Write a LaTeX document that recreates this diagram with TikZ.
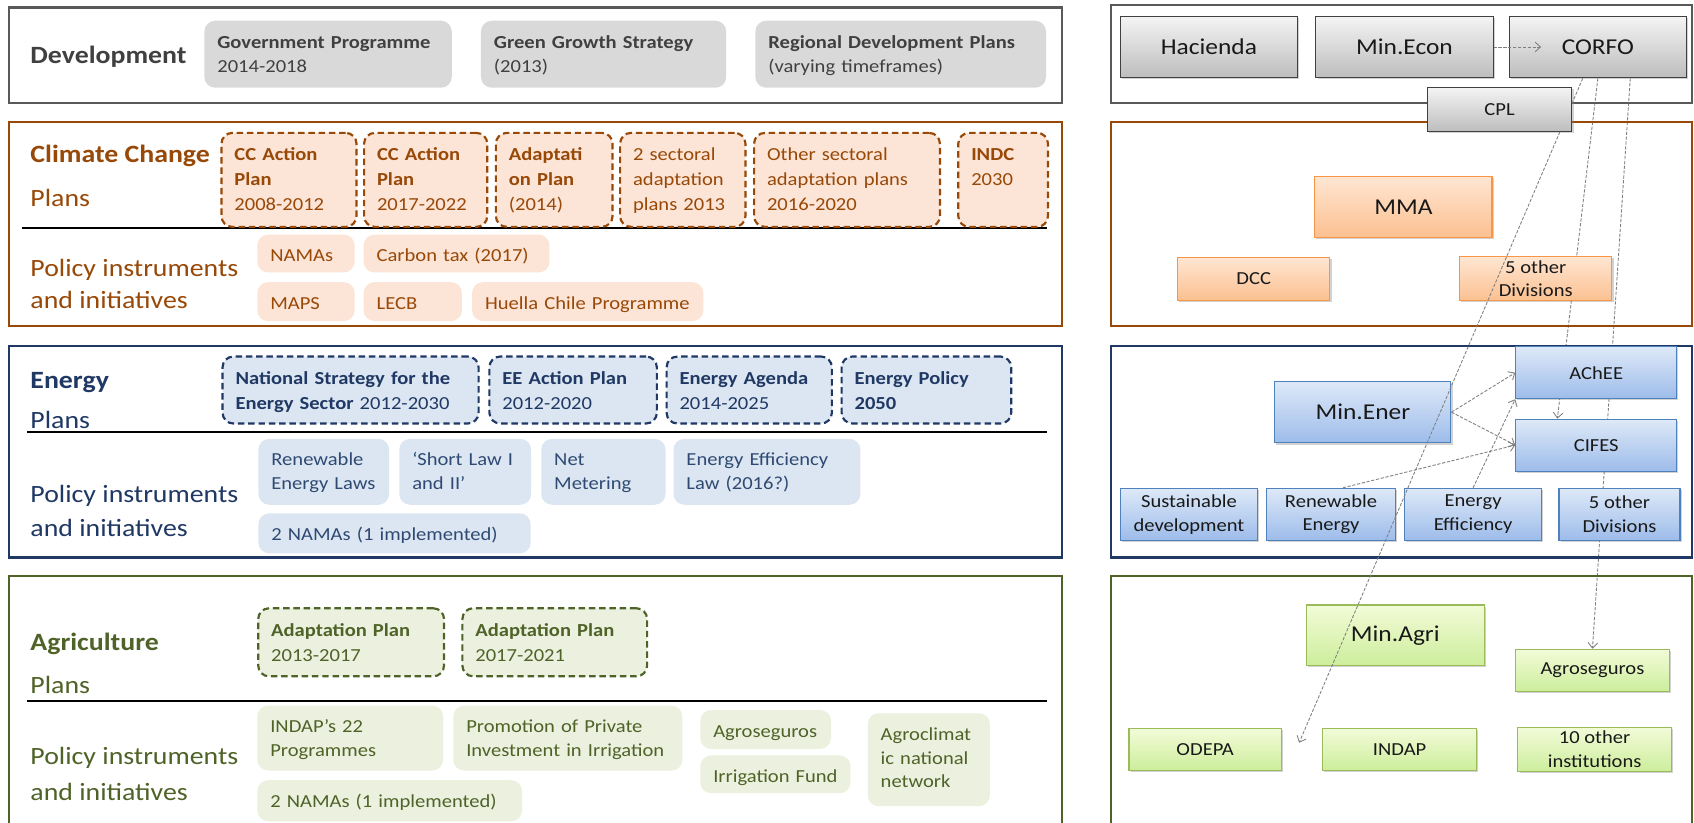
\documentclass[tikz,border=0pt]{standalone}
\usepackage{fontspec}
\setmainfont{Carlito}[FakeStretch=1.12]
\usetikzlibrary{positioning,arrows.meta,shadows}
\definecolor{devgray}{HTML}{404040}
\definecolor{devline}{HTML}{595959}
\definecolor{devfill}{HTML}{D9D9D9}
\definecolor{ccbrown}{HTML}{984807}
\definecolor{ccfill}{HTML}{FCE4D6}
\definecolor{enblue}{HTML}{1F3864}
\definecolor{entext}{HTML}{2E4A72}
\definecolor{enfill}{HTML}{DCE6F2}
\definecolor{agolive}{HTML}{4F6228}
\definecolor{agfill}{HTML}{EBF1DE}
\definecolor{linkgray}{HTML}{7F7F7F}
\definecolor{greytop}{HTML}{F4F4F4}
\definecolor{greybot}{HTML}{BDBDBD}
\definecolor{orgtop}{HTML}{FFE6D2}
\definecolor{orgbot}{HTML}{FBC090}
\definecolor{orgline}{HTML}{F79646}
\definecolor{bluetop}{HTML}{DEE9F8}
\definecolor{bluebot}{HTML}{9DBCEA}
\definecolor{blueline}{HTML}{4F81BD}
\definecolor{greentop}{HTML}{F2FBD8}
\definecolor{greenbot}{HTML}{CDEE9C}
\definecolor{greenline}{HTML}{9BBB59}
\pgfdeclarelayer{back}
\pgfsetlayers{back,main}

\begin{document}
\begin{tikzpicture}[x=1pt,y=-1pt,
    panel/.style={draw, line width=2pt},
    divider/.style={draw=black, line width=1.3pt},
    seclabel/.style={anchor=base west, inner sep=0pt, font=\fontsize{23}{28}\selectfont\bfseries},
    sublabel/.style={anchor=base west, inner sep=0pt, font=\fontsize{23}{28}\selectfont},
    boxcell/.style 2 args={anchor=north west, rounded corners=10pt, inner xsep=12pt, inner ysep=0pt,
        align=left, text width=#1, text depth=#2},
    devbox/.style 2 args={boxcell={#1}{#2}, fill=devfill, text=devgray, text height=26pt,
        font=\fontsize{17}{22}\selectfont},
    planbox/.style 2 args={boxcell={#1}{#2}, dash pattern=on 6pt off 3.5pt, line width=2pt,
        text height=26pt, font=\fontsize{17}{23}\selectfont},
    instbox/.style 2 args={boxcell={#1}{#2}, text height=25pt, font=\fontsize{17}{22}\selectfont},
    ccplan/.style 2 args={planbox={#1}{#2}, draw=ccbrown, fill=ccfill, text=ccbrown},
    ccinst/.style 2 args={instbox={#1}{#2}, fill=ccfill, text=ccbrown},
    enplan/.style 2 args={planbox={#1}{#2}, draw=enblue, fill=enfill, text=enblue},
    eninst/.style 2 args={instbox={#1}{#2}, fill=enfill, text=entext},
    agplan/.style 2 args={planbox={#1}{#2}, draw=agolive, fill=agfill, text=agolive},
    aginst/.style 2 args={instbox={#1}{#2}, fill=agfill, text=agolive},
    orgbox/.style={draw, line width=1pt, align=center, text=black!90,
        drop shadow={opacity=0.35, shadow xshift=1.5pt, shadow yshift=-1.5pt}},
    bigtxt/.style={font=\fontsize{21}{25}\selectfont},
    smalltxt/.style={font=\fontsize{17}{22}\selectfont},
    greybox/.style={orgbox, draw=devgray, top color=greytop, bottom color=greybot},
    orangebox/.style={orgbox, draw=orgline, top color=orgtop, bottom color=orgbot},
    bluebox/.style={orgbox, draw=blueline, top color=bluetop, bottom color=bluebot},
    greenbox/.style={orgbox, draw=greenline, top color=greentop, bottom color=greenbot},
    link/.style={draw=linkgray, line width=0.8pt, dash pattern=on 3pt off 1.5pt,
        -{Straight Barb[length=5pt, width=9pt]}}
  ]
    \begin{pgfonlayer}{back}
      \fill[white] (0,0) rectangle (1568,761);
    \end{pgfonlayer}
    \useasboundingbox (0,0) rectangle (1568,761);

    %Frames
    \draw[panel, draw=devline] (8,7) rectangle (983,95);
    \draw[panel, draw=ccbrown] (8,113) rectangle (983,302);
    \draw[panel, draw=enblue] (8,320) rectangle (983,516);
    \draw[panel, draw=agolive] (8,533) rectangle (983,775);
    \draw[panel, draw=devline] (1028,5) rectangle (1566,95);
    \draw[panel, draw=ccbrown] (1028,113) rectangle (1566,302);
    \draw[panel, draw=enblue] (1028,320) rectangle (1566,516);
    \draw[panel, draw=agolive] (1028,533) rectangle (1566,775);

    %Development
    \node[seclabel, text=devgray] (devlab) at (28,59) {Development};
    \node[devbox={205}{36}] (govprog) at (189,19) {\textbf{Government~Programme}\\2014-2018};
    \node[devbox={203}{36}] (greengrowth) at (445,19) {\textbf{Green~Growth~Strategy}\\(2013)};
    \node[devbox={245}{36}] (regdev) at (699,19) {\textbf{Regional~Development~Plans}\\(varying timeframes)};

    %Climate change
    \node[seclabel, text=ccbrown] (cclab) at (28,150) {Climate Change};
    \node[sublabel, text=ccbrown] (ccplans) at (28,191) {Plans};
    \node[sublabel, text=ccbrown] (ccpol) at (28,256) {Policy instruments};
    \node[sublabel, text=ccbrown] (ccini) at (28,286) {and initiatives};
    \draw[divider] (20,211) -- (969,211);
    \node[ccplan={101}{61}] (ccap1) at (204,122) {\textbf{CC Action}\\\textbf{Plan}\\2008-2012};
    \node[ccplan={90}{61}, right=5pt of ccap1] (ccap2) {\textbf{CC Action}\\\textbf{Plan}\\2017-2022};
    \node[ccplan={84}{61}, right=6pt of ccap2] (ccadapt) {\textbf{Adaptati}\\\textbf{on Plan}\\(2014)};
    \node[ccplan={92}{61}, right=5pt of ccadapt] (ccsect) {2 sectoral\\adaptation\\plans~2013};
    \node[ccplan={148}{61}, right=6pt of ccsect] (ccother) {Other sectoral\\adaptation~plans\\2016-2020};
    \node[ccplan={59}{61}, right=15pt of ccother] (indc) {\textbf{INDC}\\2030};
    \node[ccinst={66}{10}] (ccnamas) at (238,217) {NAMAs};
    \node[ccinst={148}{10}, right=8pt of ccnamas] (carbontax) {Carbon tax (2017)};
    \node[ccinst={66}{11}] (maps) at (238,261) {MAPS};
    \node[ccinst={67}{11}, right=8pt of maps] (lecb) {LECB};
    \node[ccinst={190}{11}, right=9pt of lecb] (huella) {Huella~Chile~Programme};

    %Energy
    \node[seclabel, text=enblue] (enlab) at (28,360) {Energy};
    \node[sublabel, text=enblue] (enplans) at (28,397) {Plans};
    \node[sublabel, text=enblue] (enpol) at (28,465) {Policy instruments};
    \node[sublabel, text=enblue] (enini) at (28,497) {and initiatives};
    \draw[divider] (25,400) -- (969,400);
    \node[enplan={213}{36}] (nses) at (205,329) {\textbf{National~Strategy~for~the}\\\textbf{Energy~Sector}~2012-2030};
    \node[enplan={131}{36}, right=8pt of nses] (eeap) {\textbf{EE~Action~Plan}\\2012-2020};
    \node[enplan={129}{36}, right=7pt of eeap] (enagenda) {\textbf{Energy~Agenda}\\2014-2025};
    \node[enplan={133}{36}, right=7pt of enagenda] (enpolicy) {\textbf{Energy~Policy}\\\textbf{2050}};
    \node[eninst={97}{36}] (relaws) at (239,406) {Renewable\\Energy~Laws};
    \node[eninst={98}{36}, right=9pt of relaws] (shortlaw) {‘Short~Law~I\\and II’};
    \node[eninst={91}{36}, right=9pt of shortlaw] (netmeter) {Net\\Metering};
    \node[eninst={149}{36}, right=7pt of netmeter] (eelaw) {Energy~Efficiency\\Law (2016?)};
    \node[eninst={228}{12}] (ennamas) at (239,475) {2 NAMAs (1 implemented)};

    %Agriculture
    \node[seclabel, text=agolive] (aglab) at (28,602) {Agriculture};
    \node[sublabel, text=agolive] (agplans) at (28,642) {Plans};
    \node[sublabel, text=agolive] (agpol) at (28,708) {Policy instruments};
    \node[sublabel, text=agolive] (agini) at (28,741) {and initiatives};
    \draw[divider] (25,649) -- (969,649);
    \node[agplan={148}{37}] (agap1) at (238,562) {\textbf{Adaptation~Plan}\\2013-2017};
    \node[agplan={147}{37}, right=15pt of agap1] (agap2) {\textbf{Adaptation~Plan}\\2017-2021};
    \node[aginst={148}{35}] (indapprog) at (238,653) {INDAP’s 22\\Programmes};
    \node[aginst={188}{35}, right=9pt of indapprog] (irrinv) {Promotion~of~Private\\Investment~in~Irrigation};
    \node[aginst={97}{11}] (agroins) at (648,657) {Agroseguros};
    \node[aginst={115}{10}] (irrfund) at (648,699) {Irrigation~Fund};
    \node[aginst={89}{61}] (agroclim) at (803,660) {Agroclimat\\ic~national\\network};
    \node[aginst={221}{13}] (agnamas) at (238,722) {2 NAMAs (1 implemented)};

    %Institutions
    \node[greybox, bigtxt, minimum width=164pt, minimum height=57pt] (hacienda) at (1119,43.5) {Hacienda};
    \node[greybox, bigtxt, minimum width=164pt, minimum height=57pt, right=16pt of hacienda] (minecon) {Min.Econ};
    \node[greybox, bigtxt, minimum width=164pt, minimum height=57pt, right=14pt of minecon] (corfo) {CORFO};
    \node[orangebox, bigtxt, minimum width=164pt, minimum height=57pt] (mma) at (1299,191.5) {MMA};
    \node[orangebox, smalltxt, minimum width=141pt, minimum height=40pt] (dcc) at (1160.5,258) {DCC};
    \node[orangebox, smalltxt, minimum width=141pt, minimum height=40pt] (mmaother) at (1421.5,258) {5 other\\Divisions};
    \node[bluebox, bigtxt, minimum width=163pt, minimum height=57pt] (minener) at (1261.5,381.5) {Min.Ener};
    \node[bluebox, smalltxt, minimum width=149pt, minimum height=48pt] (achee) at (1477.5,345) {AChEE};
    \node[bluebox, smalltxt, minimum width=149pt, minimum height=48pt, below=18pt of achee] (cifes) {CIFES};
    \node[bluebox, smalltxt, minimum width=127pt, minimum height=48pt] (susdev) at (1100.5,476) {Sustainable\\development};
    \node[bluebox, smalltxt, minimum width=120pt, minimum height=48pt, right=7pt of susdev] (renen) {Renewable\\Energy};
    \node[bluebox, smalltxt, minimum width=127pt, minimum height=48pt, right=7pt of renen] (eneff) {Energy\\Efficiency};
    \node[bluebox, smalltxt, minimum width=112pt, minimum height=48pt, right=15pt of eneff] (enother) {5 other\\Divisions};
    \node[greenbox, bigtxt, minimum width=165pt, minimum height=56pt] (minagri) at (1291.5,588) {Min.Agri};
    \node[greenbox, smalltxt, minimum width=142pt, minimum height=39pt] (agroseg) at (1474,620.5) {Agroseguros};
    \node[greenbox, smalltxt, minimum width=141pt, minimum height=39pt] (odepa) at (1115.5,693.5) {ODEPA};
    \node[greenbox, smalltxt, minimum width=143pt, minimum height=39pt, right=37pt of odepa] (indap) {INDAP};
    \node[greenbox, smalltxt, minimum width=142pt, minimum height=39pt, right=37pt of indap] (agriother) {10 other\\institutions};

    %Lines
    \coordinate (corfoin) at ([xshift=30pt]corfo.west);
    \coordinate (odepain) at ([xshift=16pt,yshift=6pt]odepa.east);
    \draw[link] (minecon) -- (corfoin);
    \begin{pgfonlayer}{back}
      \draw[link] (corfo.south) -- ([xshift=-36pt]cifes.north);
      \draw[link] ([xshift=30pt]corfo.south) -- (agroseg.north);
    \end{pgfonlayer}
    \draw[link] ([xshift=-14pt]corfo.south) -- (odepain);
    \draw[link] (minener.east) -- (achee.west);
    \draw[link] (minener.east) -- (cifes.west);
    \draw[link] ([xshift=11pt]renen.north) -- (cifes.west);
    \draw[link] (eneff.north) -- (achee.south west);
    \node[greybox, smalltxt, minimum width=134pt, minimum height=41pt] (cpl) at (1388,101.5) {CPL};
\end{tikzpicture}
\end{document}
